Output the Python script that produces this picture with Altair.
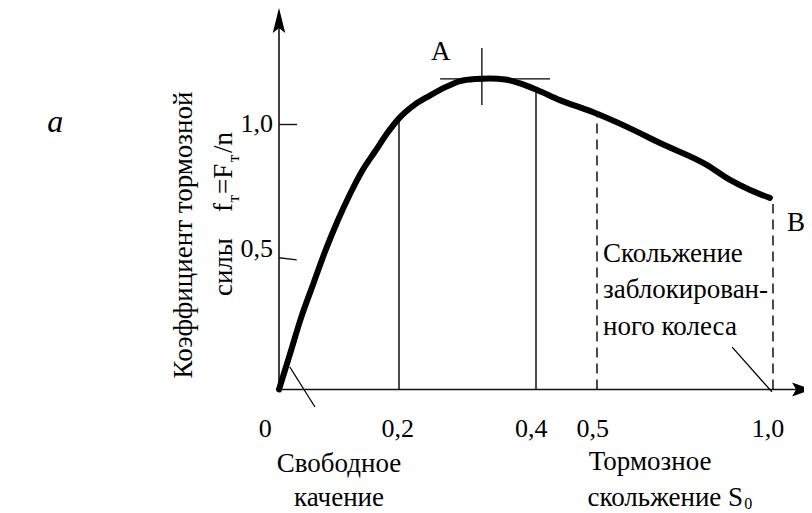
import altair as alt
import pandas as pd

# ---- data ----
slip = [0.0, 0.018, 0.037, 0.058, 0.078, 0.098, 0.118, 0.138, 0.160, 0.180, 0.201,
        0.223, 0.245, 0.267, 0.289, 0.311, 0.333, 0.355, 0.377, 0.402, 0.439, 0.493,
        0.585, 0.679, 0.813, 0.878, 0.935, 0.991]
coef = [0.0, 0.132, 0.272, 0.404, 0.528, 0.638, 0.736, 0.823, 0.898, 0.966, 1.026,
        1.075, 1.109, 1.140, 1.164, 1.172, 1.174, 1.170, 1.155, 1.130, 1.092, 1.047,
        0.991, 0.930, 0.847, 0.791, 0.753, 0.723]

solid_slip = [0.2, 0.4]
solid_top = [1.02, 1.13]
dashed_slip = [0.5, 1.0]
dashed_top = [1.04, 0.70]

xtick_values = [0.0, 0.2, 0.4, 0.5, 1.0]
xtick_labels = ["0", "0,2", "0,4", "0,5", "1,0"]
ytick_values = [0.5, 1.0]
ytick_labels = ["0,5", "1,0"]

FONT = "Liberation Serif, Times New Roman, DejaVu Serif, serif"

xs = alt.Scale(domain=[0, 0.2, 0.4, 0.5, 1.0], range=[271, 391, 528, 589, 765],
               zero=False, nice=False)
ys = alt.Scale(domain=[0, 1], range=[381.5, 116.5], zero=False, nice=False)


def X(f="x"):
    return alt.X(f, type="quantitative", scale=xs, axis=None)


def Y(f="y"):
    return alt.Y(f, type="quantitative", scale=ys, axis=None)


# ---- axes (lines, ticks, arrows) ----
axes_df = pd.DataFrame({
    "x": [0.0, 0.0], "y": [0.0, 0.0],
    "x2": [0.0, 1.09], "y2": [1.40, 0.0],
})
axes = alt.Chart(axes_df).mark_rule(color="#111", strokeWidth=1.6).encode(
    x=X(), y=Y(), x2="x2", y2="y2")

yticks_df = pd.DataFrame({
    "x": [0.0, 0.0], "y": [0.497, ytick_values[1]],
    "x2": [0.0295, 0.030], "y2": [0.489, ytick_values[1]],
})
yticks = alt.Chart(yticks_df).mark_rule(color="#111", strokeWidth=1.4).encode(
    x=X(), y=Y(), x2="x2", y2="y2")

arrow_up = alt.Chart(pd.DataFrame({"x": [0.0], "y": [1.44]})).mark_point(
    shape="M0,0 L-0.5,2 L0,1.6 L0.5,2 Z", filled=True, size=625,
    color="black", opacity=1).encode(x=X(), y=Y())
arrow_right = alt.Chart(pd.DataFrame({"x": [1.111], "y": [0.0]})).mark_point(
    shape="M0,0 L-2,-0.7 L-1.6,0 L-2,0.7 Z", filled=True, size=400,
    color="black", opacity=1).encode(x=X(), y=Y())

# ---- vertical slip lines ----
solid = alt.Chart(pd.DataFrame({"x": solid_slip, "y": [0, 0], "y2": solid_top})).mark_rule(
    color="black", strokeWidth=1.4).encode(x=X(), y=Y(), y2="y2")
dashed = alt.Chart(pd.DataFrame({"x": dashed_slip, "y": [0, 0], "y2": dashed_top})).mark_rule(
    color="black", strokeWidth=1.4, strokeDash=[10, 6]).encode(x=X(), y=Y(), y2="y2")

# ---- peak marker and pointer lines ----
thin_df = pd.DataFrame({
    "x": [0.321, 0.260, 0.018, 0.884],
    "y": [1.074, 1.172, 0.085, 0.160],
    "x2": [0.321, 0.423, 0.060, 0.997],
    "y2": [1.289, 1.172, -0.066, -0.009],
})
thin = alt.Chart(thin_df).mark_rule(color="black", strokeWidth=1.3).encode(
    x=X(), y=Y(), x2="x2", y2="y2")

# ---- curve ----
curve = alt.Chart(pd.DataFrame({"x": slip, "y": coef})).mark_line(
    color="black", strokeWidth=6, interpolate="monotone", strokeCap="round").encode(
    x=X(), y=Y())


# ---- text ----
def text_layer(df, **kw):
    base = dict(font=FONT, color="black", baseline="alphabetic")
    base.update(kw)
    return alt.Chart(df).mark_text(**base).encode(x=X(), y=Y(), text="t:N")


center_txt = pd.DataFrame({
    "t": ["A", "Свободное", "качение", "Тормозное"],
    "x": [0.261, 0.100, 0.100, 0.651],
    "y": [1.243, -0.311, -0.440, -0.304],
})
left_txt = pd.DataFrame({
    "t": ["B", "Скольжение", "заблокирован-", "ного колеса"],
    "x": [1.040, 0.517, 0.517, 0.517],
    "y": [0.598, 0.481, 0.345, 0.206],
})
right_txt = pd.DataFrame({"t": ["скольжение S"], "x": [0.915], "y": [-0.440]})
sub_txt = pd.DataFrame({"t": ["0"], "x": [0.918], "y": [-0.452]})

xtick_txt = pd.DataFrame({
    "t": xtick_labels,
    "x": [-0.023, 0.198, 0.393, 0.493, 0.986],
    "y": [-0.179] * 5,
})
ytick_txt = pd.DataFrame({
    "t": ytick_labels,
    "x": [-0.010, -0.010],
    "y": [0.500, 0.972],
})
a_txt = pd.DataFrame({"t": ["a"], "x": [-0.373], "y": [0.972]})

title_c = pd.DataFrame({
    "t": ["Коэффициент тормозной", "силы"],
    "x": [-0.145, -0.078],
    "y": [0.583, 0.462],
})
formula_main = pd.DataFrame({
    "t": ["f", "=F", "/n"],
    "x": [-0.078, -0.078, -0.078],
    "y": [0.670, 0.738, 0.892],
})
formula_sub = pd.DataFrame({
    "t": ["т", "т"],
    "x": [-0.066, -0.066],
    "y": [0.706, 0.858],
})

layers = [
    axes, yticks, solid, dashed, thin, curve, arrow_up, arrow_right,
    text_layer(center_txt, align="center", fontSize=27),
    text_layer(left_txt, align="left", fontSize=27),
    text_layer(right_txt, align="right", fontSize=27),
    text_layer(sub_txt, align="left", fontSize=16),
    text_layer(xtick_txt, align="center", fontSize=26),
    text_layer(ytick_txt, align="right", fontSize=26),
    text_layer(a_txt, align="center", fontSize=32, fontStyle="italic"),
    text_layer(title_c, align="center", fontSize=27, angle=270),
    text_layer(formula_main, align="left", fontSize=27, angle=270),
    text_layer(formula_sub, align="left", fontSize=17, angle=270),
]

chart = alt.layer(*layers).properties(
    width=796, height=505, padding=0,
    autosize=alt.AutoSizeParams(type="none"),
    background="white",
).configure_view(stroke=None)

chart.save("out.html", embed_options={"renderer": "svg", "actions": False})
